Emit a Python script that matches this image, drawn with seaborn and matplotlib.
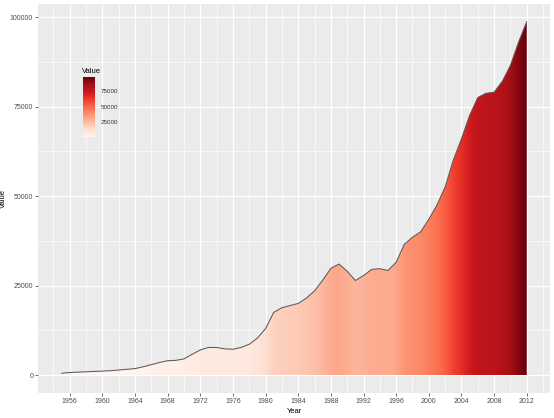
import numpy as np
import matplotlib
matplotlib.use("Agg")
import matplotlib.pyplot as plt
import seaborn as sns

years = np.arange(1955, 2013)
values = [
    500, 700, 800, 900, 1000, 1100, 1200, 1400, 1600, 1800,
    2300, 2900, 3500, 4000, 4100, 4500, 5800, 7000, 7700, 7700,
    7300, 7200, 7700, 8600, 10300, 13000, 17500, 18800, 19400, 20000,
    21500, 23500, 26500, 29800, 31000, 29000, 26400, 27800, 29500, 29700,
    29200, 31500, 36500, 38500, 40000, 43500, 47500, 52500, 60000, 66000,
    72500, 77500, 78700, 79000, 82000, 86500, 93000, 98700,
]
x_ticks = list(range(1956, 2013, 4))
y_ticks = [0, 25000, 50000, 75000, 100000]
legend_ticks = [25000, 50000, 75000]


def main():
    sns.set_theme(style="darkgrid", rc={
        "axes.facecolor": "#EBEBEB",
        "grid.color": "white",
        "axes.edgecolor": "none",
    })
    plt.rcParams["font.family"] = ["Liberation Sans", "DejaVu Sans"]

    vals = np.array(values, dtype=float)
    cmap = sns.color_palette("Reds", as_cmap=True)
    norm = matplotlib.colors.Normalize(vmin=vals.min(), vmax=vals.max())

    fig = plt.figure(figsize=(5.54, 4.18), dpi=100)
    ax = fig.add_axes([38.3 / 554, 1 - 392.7 / 418, (550 - 38.3) / 554, (392.7 - 4) / 418])

    # gradient fill clipped to the area under the curve
    poly = ax.fill_between(years, 0, vals, facecolor="none", edgecolor="none")
    im = ax.imshow(vals[np.newaxis, :], cmap=cmap, norm=norm, aspect="auto",
                   interpolation="bilinear", origin="lower",
                   extent=[years[0] - 0.5, years[-1] + 0.5, 0, 110000], zorder=1)
    im.set_clip_path(poly.get_paths()[0], transform=ax.transData)

    sns.lineplot(x=years, y=vals, ax=ax, color="#5A5A5A", linewidth=0.75, zorder=2)

    span = years[-1] - years[0]
    ax.set_xlim(years[0] - 0.05 * span, years[-1] + 0.05 * span)
    ax.set_ylim(-0.05 * vals.max(), 1.05 * vals.max())

    ax.set_xticks(x_ticks)
    ax.set_xticks(list(range(1954, 2015, 4)), minor=True)
    ax.set_yticks(y_ticks)
    ax.set_yticks([12500, 37500, 62500, 87500], minor=True)
    ax.set_xticklabels([str(t) for t in x_ticks])
    ax.set_yticklabels([str(t) for t in y_ticks])
    ax.grid(which="major", color="white", linewidth=0.9)
    ax.grid(which="minor", color="white", linewidth=0.45)
    ax.tick_params(which="major", length=2.2, width=0.5, color="#333333",
                   labelsize=5, labelcolor="#4D4D4D", pad=1.5, bottom=True, left=True)
    ax.tick_params(which="minor", length=0)
    ax.set_xlabel("Year", fontsize=5.5, color="black", labelpad=2)
    ax.set_ylabel("Value", fontsize=5.5, color="black", labelpad=2)
    for s in ax.spines.values():
        s.set_visible(False)

    # legend colour bar
    cax = fig.add_axes([83 / 554, 1 - 137 / 418, 12 / 554, 60 / 418])
    sm = matplotlib.cm.ScalarMappable(norm=norm, cmap=cmap)
    cb = fig.colorbar(sm, cax=cax, ticks=legend_ticks)
    cb.outline.set_visible(False)
    cb.ax.set_yticklabels([str(t) for t in legend_ticks])
    cb.ax.tick_params(direction="in", color="white", length=2, width=0.5,
                      labelsize=4.5, labelcolor="#333333", pad=4, left=True)
    fig.text(82 / 554, 1 - 73 / 418, "Value", fontsize=5.5, color="black",
             ha="left", va="baseline")

    fig.savefig("out.png", dpi=100, facecolor="white")


if __name__ == '__main__':
    main()
